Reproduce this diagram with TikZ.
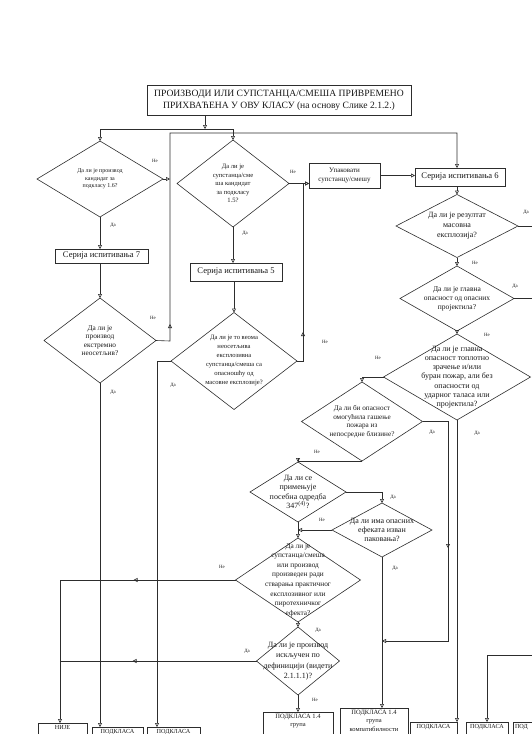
\documentclass[tikz,border=0pt]{standalone}
\usepackage{fontspec}
\setmainfont{Liberation Serif}
\usetikzlibrary{arrows.meta,positioning,shapes.geometric,decorations.markings}
\definecolor{fcLine}{RGB}{ 45, 45, 45}
\definecolor{fcText}{RGB}{ 25, 25, 25}
\newcommand\qf[2]{\fontsize{#1}{#2}\selectfont}

\begin{document}
\begin{tikzpicture}[
  x=1pt,y=-1pt,
  every node/.style={text=fcText},
  flow/.style={draw=fcLine,line width=0.6pt},
  arr/.style={flow,-{Triangle[open,length=4pt,width=4pt]}},
  mid/.style={postaction={decorate},decoration={markings,
              mark=at position #1 with {\arrow{Triangle[open,length=4pt,width=4pt]}}}},
  dec/.style={draw=fcLine,line width=0.6pt,diamond,inner sep=-40pt,outer sep=0pt,
              align=center,font=\qf{7}{9}},
  blk/.style={draw=fcLine,line width=0.8pt,rectangle,inner sep=1pt,outer sep=0pt,align=center},
  res/.style={blk,anchor=north,inner sep=2pt,text depth=40pt,font=\qf{6.2}{8}},
  ans/.style={font=\qf{4.8}{5},inner sep=0pt}
]
\useasboundingbox (0,0) rectangle (531,734);

\node[blk,minimum width=264pt,minimum height=30pt,font=\qf{9.6}{12}] (T) at (279,100)
  {ПРОИЗВОДИ ИЛИ СУПСТАНЦА/СМЕША ПРИВРЕМЕНО\\ПРИХВАЋЕНА У ОВУ КЛАСУ (на основу Слике 2.1.2.)};

\node[dec,minimum width=126pt,minimum height=76pt,font=\qf{6}{7.5}] (Q1) at (100,179)
  {Да ли је производ\\кандидат за\\подкласу 1.6?};
\node[dec,minimum width=112pt,minimum height=87pt,font=\qf{6.6}{8.5}] (Q2) at (233,183.5)
  {Да ли је\\супстанца/сме\\ша кандидат\\за подкласу\\1.5?};
\node[blk,minimum width=71pt,minimum height=25pt,font=\qf{7}{9}] (P) at (344.5,175.5)
  {Упаковати\\супстанцу/смешу};
\node[blk,minimum width=90pt,minimum height=18pt,font=\qf{8.6}{9}] (S6) at (460,177)
  {Серија испитивања 6};
\node[blk,minimum width=93pt,minimum height=14pt,font=\qf{8.6}{9}] (S7) at (101.5,256)
  {Серија испитивања 7};
\node[blk,minimum width=92pt,minimum height=18pt,font=\qf{8.6}{9}] (S5) at (236,272)
  {Серија испитивања 5};

\node[dec,minimum width=112pt,minimum height=85pt,font=\qf{7.3}{8.5}] (Q3) at (100,340.5)
  {Да ли је\\производ\\екстремно\\неосетљив?};
\node[dec,minimum width=126pt,minimum height=97pt,font=\qf{6.6}{9}] (Q4) at (234,361)
  {Да ли је то веома\\неосетљива\\експлозивна\\супстанца/смеша са\\опасношћу од\\масовне експлозије?};
\node[dec,minimum width=122pt,minimum height=63pt,font=\qf{8}{10}] (Q5) at (457,226)
  {Да ли је резултат\\масовна\\експлозија?};
\node[dec,minimum width=114pt,minimum height=65pt,font=\qf{7.5}{9}] (Q6) at (457,298.5)
  {Да ли је главна\\опасност од опасних\\пројектила?};
\node[dec,minimum width=147pt,minimum height=86pt,font=\qf{8}{9.2}] (Q7) at (457,377)
  {Да ли је главна\\опасност топлотно\\зрачење и/или\\буран пожар, али без\\опасности од\\ударног таласа или\\пројектила?};
\node[dec,minimum width=121pt,minimum height=79pt,font=\qf{7.2}{8.5}] (Q8) at (362,421.5)
  {Да ли би опасност\\омогућила гашење\\пожара из\\непосредне близине?};
\node[dec,minimum width=96pt,minimum height=60pt,font=\qf{8}{9.3}] (Q9) at (298,492)
  {Да ли се\\примењује\\посебна одредба\\347\textsuperscript{(4)}?};
\node[dec,minimum width=100pt,minimum height=54pt,font=\qf{8}{8.8}] (Q10) at (382,530)
  {Да ли има опасних\\ефеката изван\\паковања?};
\node[dec,minimum width=125pt,minimum height=84pt,font=\qf{7.3}{9.6}] (Q11) at (298,580)
  {Да ли је\\супстанца/смеша\\или производ\\произведен ради\\стварања практичног\\експлозивног или\\пиротехничког\\ефекта?};
\node[dec,minimum width=83pt,minimum height=68pt,font=\qf{8}{10.5}] (Q12) at (298,661)
  {Да ли је производ\\искључен по\\дефиницији (видети\\2.1.1.1)?};

\node[res,minimum width=49pt] (B1) at (62.5,723) {НИЈЕ};
\node[res,minimum width=51pt] (B2) at (117.5,727) {ПОДКЛАСА};
\node[res,minimum width=53pt] (B3) at (173.5,727) {ПОДКЛАСА};
\node[res,minimum width=70pt,font=\qf{6.5}{8.5}] (B4) at (298,712) {ПОДКЛАСА 1.4\\група};
\node[res,minimum width=68pt,font=\qf{6.5}{8.5}] (B5) at (374,708)
  {ПОДКЛАСА 1.4\\група\\компатибилности};
\node[res,minimum width=47pt] (B6) at (433.5,722) {ПОДКЛАСА};
\node[res,minimum width=42pt] (B7) at (487,722) {ПОДКЛАСА};
\node[res,anchor=north west,text width=30pt,align=left] (B8) at (513,722) {ПОД};

\coordinate (J0) at (205,129);
\coordinate (J1) at (170,133);
\coordinate (J2) at (170,341);
\coordinate (J3) at (303,361);
\coordinate (J4) at (157,361);
\coordinate (J5) at (60,580);
\coordinate (J7) at (448,641);
\coordinate (J8) at (540,226);
\coordinate (J10) at (540,655);
\coordinate (J11) at (487,655);

\draw[arr] (T.south -| J0) -- (J0);
\draw[arr] (J0) -| (Q1.north);
\draw[arr] (J0) -| (Q2.north);
\draw[arr] (Q1.east) -- (Q1.east -| J1);
\draw[arr,mid=31pt] (Q3.east) -- (J2) -- (J1) -| (Q5.north |- S6.north);
\draw[arr] (Q1.south) -- (Q1.south |- S7.north);
\draw[arr] (S7.south -| Q3.north) -- (Q3.north);
\draw[arr] (Q3.south) -- (Q3.south |- B2.north);
\draw[arr] (Q2.south) -- (Q2.south |- S5.north);
\draw[arr] (S5.south -| Q4.north) -- (Q4.north);
\draw[arr] (Q4.west) -- (J4) -- (J4 |- B3.north);
\draw[arr] (Q2.east) -- (P.west |- Q2.east);
\draw[arr,mid=35pt] (Q4.east) -- (J3) -- (J3 |- Q2.east) -- (P.west |- Q2.east);
\draw[arr] (P.east) -- (S6.west |- P.east);
\draw[arr] (S6.south -| Q5.north) -- (Q5.north);
\draw[arr] (Q5.south) -- (Q6.north);
\draw[arr] (Q6.south) -- (Q7.north);
\draw[flow] (Q5.east) -- (Q5.east -| J8);
\draw[flow] (Q6.east) -- (Q6.east -| J8);
\draw[arr] (Q7.west) -| (Q8.north);
\draw[arr] (Q7.south) -- (Q7.south |- B6.north);
\draw[arr,mid=152pt] (Q8.east) -| (J7) -- (J7 -| Q10.south);
\draw[arr] (Q8.south) -| (Q9.north);
\draw[arr] (Q9.east) -| (Q10.north);
\draw[arr] (Q10.west) -- (Q10.west -| Q9.south);
\draw[arr] (Q9.south) -- (Q11.north);
\draw[arr] (Q10.south) -- (Q10.south |- B5.north);
\draw[arr,mid=102pt] (Q11.west) -- (J5) -- (J5 |- B1.north);
\draw[flow,mid=124pt] (Q12.west) -- (Q12.west -| J5);
\draw[arr] (Q11.south) -- (Q12.north);
\draw[arr] (Q12.south) -- (Q12.south |- B4.north);
\draw[arr] (J10) -- (J11) -- (J11 |- B7.north);

\node[ans] (L1n) at (155,161) {Не};
\node[ans] (L1d) at (113,225) {Да};
\node[ans] (L2n) at (293,172) {Не};
\node[ans] (L2d) at (245,233) {Да};
\node[ans] (L3n) at (153,318) {Не};
\node[ans] (L3d) at (113,392) {Да};
\node[ans] (L4n) at (325,342) {Не};
\node[ans] (L4d) at (173,385) {Да};
\node[ans] (L5d) at (526,212) {Да};
\node[ans] (L5n) at (475,263) {Не};
\node[ans] (L6d) at (515,286) {Да};
\node[ans] (L6n) at (487,335) {Не};
\node[ans] (L7n) at (378,358) {Не};
\node[ans] (L7d) at (477,433) {Да};
\node[ans] (L8d) at (432,432) {Да};
\node[ans] (L8n) at (317,452) {Не};
\node[ans] (L9d) at (393,497) {Да};
\node[ans] (L9n) at (322,520) {Не};
\node[ans] (L10d) at (395,568) {Да};
\node[ans] (L11n) at (222,567) {Не};
\node[ans] (L11d) at (318,630) {Да};
\node[ans] (L12d) at (247,651) {Да};
\node[ans] (L12n) at (315,700) {Не};
\end{tikzpicture}
\end{document}
